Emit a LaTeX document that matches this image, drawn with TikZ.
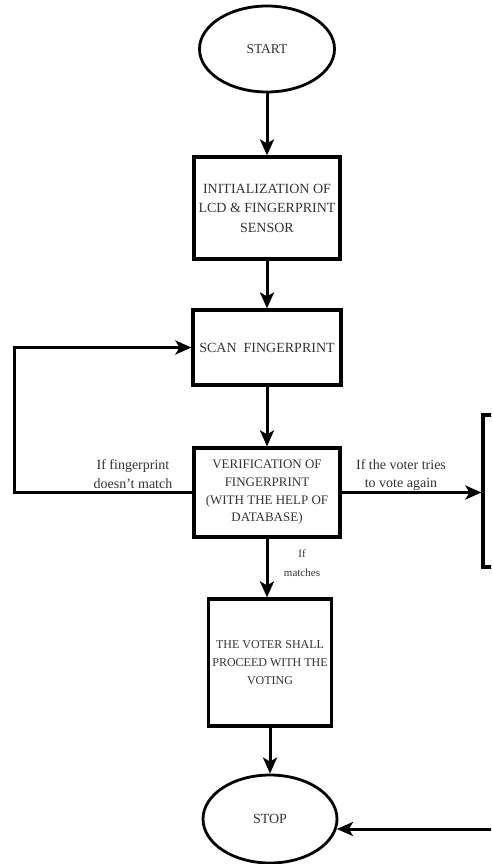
\documentclass[tikz,border=0pt]{standalone}
\usepackage{fontspec}
\setmainfont{Liberation Serif}
\usetikzlibrary{shapes.geometric,arrows.meta}
\begin{document}
\begin{tikzpicture}[x=1pt,y=-1pt,
 box/.style={draw,line width=3.2pt,rectangle,inner sep=0pt,align=center,text=black!80},
 oval/.style={draw,line width=2.8pt,ellipse,inner sep=0pt,text=black!80},
 arr/.style={line width=3pt,-{Stealth[length=16pt,width=14pt,inset=4pt]}},
 lbl/.style={align=center,text=black!80,inner sep=0pt}]
\useasboundingbox (0,0) rectangle (491,864);
\clip (0,0) rectangle (491,864);
\node[oval,minimum width=135pt,minimum height=86pt,font=\fontsize{13.5}{16}\selectfont] (start) at (267,49) {START};
\node[box,minimum width=146pt,minimum height=102pt,font=\fontsize{14}{19.5}\selectfont] (init) at (267,208) {INITIALIZATION OF\\LCD \& FINGERPRINT\\SENSOR};
\node[box,minimum width=148pt,minimum height=75pt,font=\fontsize{14}{18}\selectfont] (scan) at (267,347.5) {SCAN\ \ FINGERPRINT};
\node[box,minimum width=146pt,minimum height=89pt,font=\fontsize{13}{17.7}\selectfont] (verify) at (267,492.5) {VERIFICATION OF\\FINGERPRINT\\(WITH THE HELP OF\\DATABASE)};
\node[box,minimum width=123pt,minimum height=127pt,font=\fontsize{12}{18}\selectfont] (vote) at (270,662.5) {THE VOTER SHALL\\PROCEED WITH THE\\VOTING};
\node[oval,minimum width=134pt,minimum height=88pt,font=\fontsize{14}{16}\selectfont] (stop) at (270,819) {STOP};
\node[box,minimum width=120pt,minimum height=152pt] (rbox) at (543,491) {};
\coordinate (lp) at (14,492.5);
\coordinate (rin) at (495,829);
\draw[arr] (start.south -| init.north) -- (init.north);
\draw[arr] (init.south) -- (scan.north);
\draw[arr] (scan.south) -- (verify.north);
\draw[arr] (verify.west) -- (lp) |- (scan.west);
\draw[arr] (verify.east) -- (rbox.west |- verify.east);
\draw[arr] (verify.south) -- (verify.south |- vote.north);
\draw[arr] (vote.south) -- (stop.north);
\draw[arr] (rin) -- (rin -| stop.-8);
\node[lbl,font=\fontsize{14}{19}\selectfont] (l1) at (133,474.5) {If fingerprint\\doesn't match};
\node[lbl,font=\fontsize{14}{18}\selectfont] (l2) at (401,475) {If the voter tries\\to vote again};
\node[lbl,font=\fontsize{11}{19}\selectfont] (l3) at (302,563.5) {If\\matches};
\end{tikzpicture}
\end{document}
